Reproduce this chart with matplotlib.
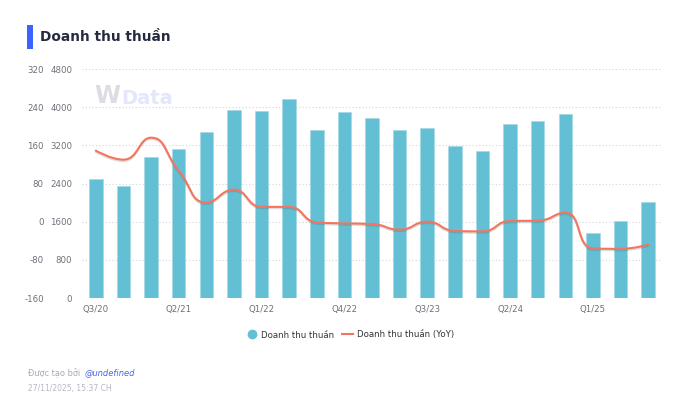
import numpy as np
import matplotlib
matplotlib.use("Agg")
import matplotlib.pyplot as plt
from matplotlib.path import Path
from matplotlib.patches import PathPatch, Rectangle
from matplotlib.lines import Line2D
import matplotlib.patheffects as pe

quarters = ["Q3/20", "Q4/20", "Q1/21", "Q2/21", "Q3/21", "Q4/21", "Q1/22", "Q2/22",
            "Q3/22", "Q4/22", "Q1/23", "Q2/23", "Q3/23", "Q4/23", "Q1/24", "Q2/24",
            "Q3/24", "Q4/24", "Q1/25", "Q2/25", "Q3/25"]
revenue = [2488, 2341, 2949, 3123, 3486, 3941, 3913, 4171, 3515, 3892, 3773, 3515,
           3570, 3180, 3081, 3647, 3716, 3857, 1369, 1608, 2018]
yoy = [149, 130, 176, 107, 40, 67, 31, 31, -1.5, -3.6, -4.8, -16.8, 0, -19.5, -20.3,
       1.5, 2, 19, -56, -57, -48]
rev_ticks = [0, 800, 1600, 2400, 3200, 4000, 4800]
yoy_ticks = [-160, -80, 0, 80, 160, 240, 320]
shown_labels = ["Q3/20", "Q2/21", "Q1/22", "Q4/22", "Q3/23", "Q2/24", "Q1/25"]

BAR = "#63bfd3"
LINE = "#f2765f"
TXT = "#6e7079"

plt.rcParams['font.family'] = ['DejaVu Sans']
fig = plt.figure(figsize=(6.9, 4.2), dpi=100)
ax = fig.add_axes([82/690, 1-298/420, 580/690, 229/420])
x = np.arange(len(quarters))
ax.bar(x, revenue, width=0.49, color=BAR, edgecolor="#9fd7e3", linewidth=0.4, zorder=2)
ax.set_xlim(-0.5, len(quarters)-0.5)
ax.set_ylim(rev_ticks[0], rev_ticks[-1])
ax.set_yticks(rev_ticks)
ax.set_yticklabels([str(t) for t in rev_ticks])
ax.set_xticks([quarters.index(q) for q in shown_labels])
ax.set_xticklabels(shown_labels)
ax.tick_params(axis='both', length=0, labelsize=6.2, colors=TXT)
ax.tick_params(axis='y', pad=7)
ax.tick_params(axis='x', pad=5)
for s in ax.spines.values():
    s.set_visible(False)
for t in rev_ticks:
    ax.axhline(t, color="#d3d5dc", linestyle=(0, (1, 2)), linewidth=0.8, zorder=1)

ax2 = ax.twinx()
ax2.set_ylim(yoy_ticks[0], yoy_ticks[-1])
ax2.set_yticks(yoy_ticks)
ax2.set_yticklabels([str(t) for t in yoy_ticks])
ax2.yaxis.set_ticks_position('left')
ax2.yaxis.set_label_position('left')
ax2.tick_params(axis='y', length=0, labelsize=6.2, colors=TXT, pad=27.5)
for s in ax2.spines.values():
    s.set_visible(False)

# smooth line (ECharts-like bezier smoothing)
sx = 580/21
sy = 229/480
X = x*sx
Y = np.array(yoy, float)*sy
n = len(X)
cin = [None]*n
cout = [None]*n
def clamp(v, a, b):
    return max(min(v, max(a, b)), min(a, b))
sm = 0.5
for i in range(n):
    xi, yi = X[i], Y[i]
    if i == 0 or i == n-1:
        cin[i] = (xi, yi); cout[i] = (xi, yi); continue
    px, py = X[i-1], Y[i-1]
    nx, ny = X[i+1], Y[i+1]
    vx, vy = nx-px, ny-py
    l0 = np.hypot(xi-px, yi-py); l1 = np.hypot(nx-xi, ny-yi)
    r = l1/(l0+l1)
    ncx = clamp(xi + vx*sm*r, nx, xi)
    ncy = clamp(yi + vy*sm*r, ny, yi)
    vx, vy = ncx-xi, ncy-yi
    c1x = clamp(xi - vx*l0/l1, px, xi)
    c1y = clamp(yi - vy*l0/l1, py, yi)
    vx, vy = xi-c1x, yi-c1y
    ncx = xi + vx*l1/l0
    ncy = yi + vy*l1/l0
    cin[i] = (c1x, c1y); cout[i] = (ncx, ncy)
verts = [(X[0], Y[0])]
codes = [Path.MOVETO]
for i in range(n-1):
    verts += [cout[i], cin[i+1], (X[i+1], Y[i+1])]
    codes += [Path.CURVE4]*3
verts = [(vx_/sx, vy_/sy) for vx_, vy_ in verts]
patch = PathPatch(Path(verts, codes), facecolor='none', edgecolor=LINE, linewidth=1.5,
                  zorder=3, capstyle='round', joinstyle='round',
                  path_effects=[pe.SimpleLineShadow(offset=(0, -1.0), shadow_color='#555555', alpha=0.2),
                                pe.Normal()])
ax2.add_patch(patch)

# watermark
fig.text(94/690, 1-96/420, "W", fontsize=17, fontweight='bold', color="#dcdde3", va='center', ha='left')
fig.text(121/690, 1-99/420, "Data", fontsize=14, fontweight='bold', color="#e4e7fb", va='center', ha='left')

# title
fig.patches.append(Rectangle((27/690, 1-49/420), 6/690, 24/420, transform=fig.transFigure,
                             facecolor="#3d63ff", edgecolor='none'))
fig.text(40/690, 1-37/420, "Doanh thu thuần", fontsize=9.9, fontweight='bold', color="#262a3e",
         va='center', ha='left')

# legend
handles = [Line2D([], [], marker='o', linestyle='none', markersize=6, color=BAR),
           Line2D([], [], color=LINE, linewidth=1.5)]
fig.legend(handles, ["Doanh thu thuần", "Doanh thu thuần (YoY)"], loc='center',
           bbox_to_anchor=(350/690, 1-335/420), ncol=2, frameon=False, fontsize=6.2,
           labelcolor="#333333", handlelength=1.3, handletextpad=0.4, columnspacing=0.9)

# footer
fig.text(28/690, 1-373/420, "Được tạo bởi", fontsize=5.9, color="#a4a8b8", va='center', ha='left')
fig.text(85/690, 1-373/420, "@undefined", fontsize=6.0, color="#4a68e8", style='italic',
         va='center', ha='left')
fig.text(28/690, 1-389/420, "27/11/2025, 15:37 CH", fontsize=5.5, color="#b4b8c6", va='center', ha='left')

fig.savefig("out.png", dpi=100)
